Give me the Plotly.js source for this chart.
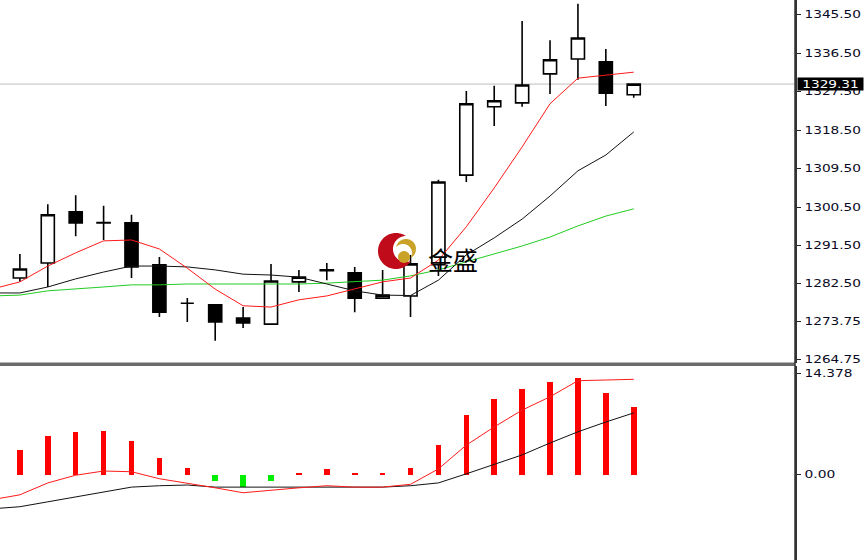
<!DOCTYPE html>
<html>
<head>
<meta charset="utf-8">
<script src="https://cdn.plot.ly/plotly-3.0.1.min.js"></script>
<style>
  html, body { margin: 0; padding: 0; background: #fff; }
  #chart { width: 865px; height: 560px; }
</style>
</head>
<body>
<div id="chart"></div>
<script>
// ---- data ----
const barIndex = [0, 1, 2, 3, 4, 5, 6, 7, 8, 9, 10, 11, 12, 13, 14, 15, 16, 17, 18, 19, 20, 21, 22, 23];
const openPrice  = [1280.6, 1283.9, 1287.4, 1299.4, 1296.9, 1296.8, 1287.0, 1278.0, 1277.6, 1274.5, 1273.1, 1283.0, 1285.6, 1285.1, 1279.2, 1279.7, 1287.0, 1308.0, 1324.0, 1324.9, 1331.7, 1335.2, 1334.5, 1326.8];
const highPrice  = [1283.7, 1289.5, 1301.2, 1303.3, 1300.8, 1298.7, 1288.8, 1279.2, 1277.8, 1277.1, 1287.2, 1285.8, 1287.4, 1286.5, 1285.8, 1289.3, 1306.9, 1327.7, 1328.9, 1344.1, 1339.6, 1348.1, 1337.5, 1329.31];
const lowPrice   = [1279.9, 1283.0, 1281.8, 1293.7, 1292.8, 1283.9, 1274.8, 1273.6, 1269.2, 1272.2, 1272.9, 1280.6, 1283.4, 1275.9, 1279.1, 1274.8, 1284.4, 1306.4, 1319.5, 1324.0, 1327.0, 1330.3, 1324.2, 1326.1];
const closePrice = [1283.0, 1286.0, 1298.7, 1296.8, 1296.8, 1286.5, 1275.9, 1278.0, 1273.6, 1273.4, 1283.2, 1284.1, 1285.8, 1279.2, 1279.9, 1287.2, 1306.4, 1324.7, 1325.4, 1329.1, 1335.0, 1340.1, 1327.2, 1329.31];

const maRed   = [1281.3, 1283.0, 1286.7, 1289.8, 1292.6, 1292.8, 1290.7, 1286.2, 1281.3, 1277.4, 1277.1, 1278.8, 1279.7, 1281.3, 1283.0, 1283.9, 1288.1, 1295.9, 1305.0, 1314.6, 1324.7, 1330.7, 1331.4, 1332.1];
const maBlack = [1280.4, 1280.4, 1281.8, 1283.7, 1285.3, 1286.7, 1286.7, 1286.5, 1285.8, 1284.8, 1284.6, 1284.1, 1282.5, 1280.9, 1279.9, 1279.8, 1283.4, 1289.3, 1293.3, 1297.7, 1303.1, 1309.0, 1312.7, 1318.1];
const maGreen = [1279.7, 1279.9, 1280.9, 1281.3, 1281.8, 1282.3, 1282.3, 1282.5, 1282.5, 1282.5, 1282.5, 1282.5, 1282.7, 1283.0, 1283.4, 1284.4, 1285.8, 1287.7, 1289.5, 1291.4, 1293.5, 1296.1, 1298.4, 1300.1];

const histValue = [null, 3.5, 5.5, 6.1, 6.2, 4.8, 2.4, 0.9, -0.9, -1.8, -0.9, 0.25, 0.8, 0.25, 0.25, 0.9, 4.2, 8.5, 10.8, 12.2, 13.2, 13.8, 11.6, 9.6];
const lineRed   = [-3.6, -2.9, -1.2, -0.1, 0.5, 0.4, -0.6, -1.2, -1.9, -2.6, -2.2, -1.9, -1.6, -1.8, -1.8, -1.4, 0.8, 4.2, 6.8, 9.2, 11.1, 13.4, 13.5, 13.6];
const lineBlack = [-4.9, -4.6, -3.9, -3.2, -2.6, -1.8, -1.6, -1.5, -1.8, -1.8, -1.8, -1.8, -1.8, -1.8, -1.8, -1.6, -1.2, 0.1, 1.4, 2.8, 4.5, 6.1, 7.5, 8.8];

const priceTicks = [1264.75, 1273.75, 1282.5, 1291.5, 1300.5, 1309.5, 1318.5, 1327.5, 1336.5, 1345.5];
const priceTickText = ['1264.75', '1273.75', '1282.50', '1291.50', '1300.50', '1309.50', '1318.50', '1327.50', '1336.50', '1345.50'];
const oscTicks = [0, 14.378];
const oscTickText = ['0.00', '14.378'];
const priceLabel = '1329.31';

const lastPrice = closePrice[closePrice.length - 1];

// ---- geometry helpers for the watermark logo (decoration only) ----
const W = 795, H = 560;
function px(x) { return x / W; }
function py(y) { return 1 - y / H; }
function crescentPath(cx, cy, R, ix, iy, r) {
  const n = 180, outer = [], inner = [];
  for (let k = 0; k < n; k++) {
    const t = 2 * Math.PI * k / n;
    const x = cx + R * Math.cos(t), y = cy + R * Math.sin(t);
    if (Math.hypot(x - ix, y - iy) > r) outer.push([x, y]);
  }
  for (let k = 0; k < n; k++) {
    const t = 2 * Math.PI * k / n;
    const x = ix + r * Math.cos(t), y = iy + r * Math.sin(t);
    if (Math.hypot(x - cx, y - cy) < R) inner.push([x, y]);
  }
  const pts = outer.concat(inner.reverse());
  return 'M ' + pts.map(p => px(p[0]).toFixed(5) + ',' + py(p[1]).toFixed(5)).join(' L ') + ' Z';
}

const axisFont = { family: 'DejaVu Sans, Verdana, sans-serif', size: 10, color: '#0a0a24' };

const traces = [
  {
    type: 'candlestick', x: barIndex, open: openPrice, high: highPrice, low: lowPrice, close: closePrice,
    xaxis: 'x', yaxis: 'y', hoverinfo: 'skip', showlegend: false, whiskerwidth: 0,
    increasing: { line: { color: '#000', width: 1.6 }, fillcolor: '#ffffff' },
    decreasing: { line: { color: '#000', width: 1.6 }, fillcolor: '#000000' }
  },
  { type: 'scatter', mode: 'lines', x: barIndex, y: maGreen, line: { color: '#22cc22', width: 1 }, xaxis: 'x', yaxis: 'y', hoverinfo: 'skip', showlegend: false },
  { type: 'scatter', mode: 'lines', x: barIndex, y: maBlack, line: { color: '#111', width: 1 }, xaxis: 'x', yaxis: 'y', hoverinfo: 'skip', showlegend: false },
  { type: 'scatter', mode: 'lines', x: barIndex, y: maRed, line: { color: '#ff1a1a', width: 1 }, xaxis: 'x', yaxis: 'y', hoverinfo: 'skip', showlegend: false },
  {
    type: 'bar', x: barIndex, y: histValue, width: 0.2, xaxis: 'x', yaxis: 'y2', hoverinfo: 'skip', showlegend: false,
    marker: { color: histValue.map(v => (v !== null && v < 0) ? '#00ee00' : '#ff0000'), line: { width: 0 } }
  },
  { type: 'scatter', mode: 'lines', x: barIndex, y: lineBlack, line: { color: '#111', width: 1 }, xaxis: 'x', yaxis: 'y2', hoverinfo: 'skip', showlegend: false },
  { type: 'scatter', mode: 'lines', x: barIndex, y: lineRed, line: { color: '#ff1a1a', width: 1 }, xaxis: 'x', yaxis: 'y2', hoverinfo: 'skip', showlegend: false }
];

const layout = {
  width: 865, height: 560,
  margin: { l: 0, r: 70, t: 0, b: 0, pad: 0 },
  paper_bgcolor: '#ffffff', plot_bgcolor: '#ffffff',
  showlegend: false,
  boxgap: 0.33,
  bargap: 0,
  xaxis: {
    range: [0.287, 28.78], visible: false, showgrid: false, zeroline: false,
    rangeslider: { visible: false }, fixedrange: true
  },
  yaxis: {
    domain: [1 - 363 / 560, 1], range: [1264.0, 1349.0], side: 'right', anchor: 'x',
    tickvals: priceTicks, ticktext: priceTickText, ticks: 'outside', ticklen: 4, tickwidth: 1, tickcolor: '#222',
    showgrid: false, zeroline: false, showline: true, linecolor: '#333', linewidth: 1.5,
    tickfont: axisFont, fixedrange: true
  },
  yaxis2: {
    domain: [0, 1 - 366 / 560], range: [-12.21, 15.5], side: 'right', anchor: 'x',
    tickvals: oscTicks, ticktext: oscTickText, ticks: 'outside', ticklen: 4, tickwidth: 1, tickcolor: '#222',
    showgrid: false, zeroline: false, showline: true, linecolor: '#333', linewidth: 1.5,
    tickfont: axisFont, fixedrange: true
  },
  shapes: [
    { type: 'line', xref: 'paper', yref: 'y', x0: 0, x1: 1, y0: lastPrice, y1: lastPrice, line: { color: '#bdbdbd', width: 1 }, layer: 'below' },
    { type: 'rect', xref: 'paper', yref: 'paper', x0: 0, x1: 1, y0: 1 - 366 / 560, y1: 1 - 362.5 / 560, fillcolor: '#6a6a6a', line: { width: 0 }, layer: 'above' },
    { type: 'line', xref: 'paper', yref: 'paper', x0: 1, x1: 1, y0: 0, y1: 1, line: { color: '#333', width: 1.5 }, layer: 'above' },
    // watermark logo
    { type: 'path', xref: 'paper', yref: 'paper', path: crescentPath(396, 251, 18, 406, 249, 13), fillcolor: '#c00c1a', line: { width: 0 }, layer: 'above' },
    { type: 'path', xref: 'paper', yref: 'paper', path: crescentPath(406, 249, 10, 403, 253, 9), fillcolor: '#c9a227', line: { width: 0 }, layer: 'above' },
    { type: 'circle', xref: 'paper', yref: 'paper', x0: px(398), x1: px(410), y0: py(263), y1: py(251), fillcolor: '#c9a227', line: { width: 0 }, layer: 'above' }
  ],
  annotations: [
    {
      xref: 'paper', yref: 'y', x: 1, y: lastPrice, xanchor: 'left', yanchor: 'middle', xshift: 2,
      width: 63, height: 10, align: 'center',
      text: priceLabel, showarrow: false, bgcolor: '#000000', borderpad: 1,
      font: { family: 'DejaVu Sans, Verdana, sans-serif', size: 10, color: '#ffffff' }
    },
    {
      xref: 'paper', yref: 'paper', x: px(453), y: py(259), xanchor: 'center', yanchor: 'middle',
      text: '金盛', showarrow: false,
      font: { family: 'Noto Sans CJK SC, sans-serif', size: 25, color: '#000000' }
    }
  ]
};

// width that the reference uses for its (horizontally stretched) axis labels
function labelWidth(s) {
  let w = 0;
  for (const ch of s) w += (ch === '.') ? 4.9 : 8.6;
  return w;
}

Plotly.newPlot('chart', traces, layout, { displayModeBar: false, staticPlot: true }).then(gd => {
  gd.querySelectorAll('g.ytick text, g.y2tick text').forEach(t => {
    t.setAttribute('textLength', labelWidth(t.textContent));
    t.setAttribute('lengthAdjust', 'spacingAndGlyphs');
    t.setAttribute('x', (parseFloat(t.getAttribute('x')) || 0) + 2);
  });
  const ann = gd.querySelector('.annotation-text-g text');
  if (ann) {
    ann.setAttribute('textLength', labelWidth(ann.textContent));
    ann.setAttribute('lengthAdjust', 'spacingAndGlyphs');
  }
});
</script>
</body>
</html>
